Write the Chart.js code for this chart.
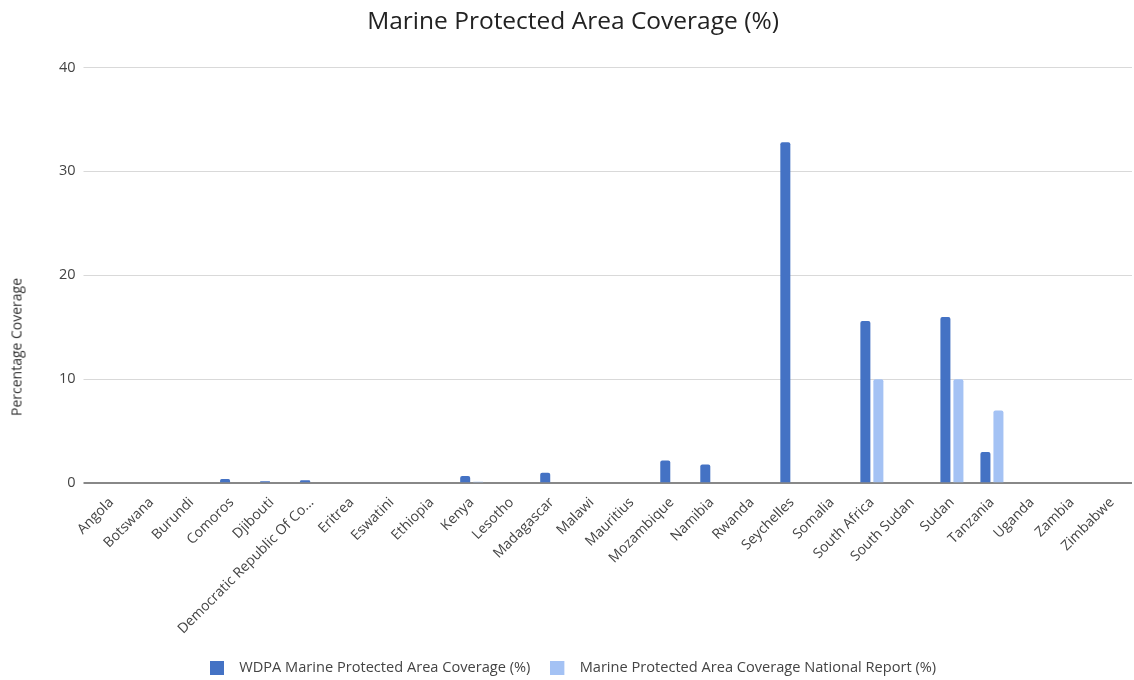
<!DOCTYPE html>
<html>
<head>
<meta charset="utf-8">
<script src="https://cdn.jsdelivr.net/npm/chart.js@4"></script>
<style>
  body { margin: 0; background: #fff; }
  #wrap { position: relative; width: 1134px; height: 680px; }
  #yTitle {
    position: absolute; left: 16px; top: 347px;
    transform: translate(-50%, -50%) rotate(-90deg);
    font: 14px "Open Sans", sans-serif; color: #333; white-space: nowrap;
  }
</style>
</head>
<body>
<div id="wrap">
  <canvas id="chart"></canvas>
  <div id="yTitle">Percentage Coverage</div>
</div>
<script>
// kategorie a hodnoty
const countries = [
  "Angola", "Botswana", "Burundi", "Comoros", "Djibouti",
  "Democratic Republic Of Congo", "Eritrea", "Eswatini", "Ethiopia", "Kenya",
  "Lesotho", "Madagascar", "Malawi", "Mauritius", "Mozambique",
  "Namibia", "Rwanda", "Seychelles", "Somalia", "South Africa",
  "South Sudan", "Sudan", "Tanzania", "Uganda", "Zambia", "Zimbabwe"
];
const wdpaCoverage = [
  0, 0, 0, 0.4, 0.2,
  0.3, 0, 0, 0, 0.7,
  0, 1.0, 0, 0, 2.2,
  1.8, 0, 32.8, 0, 15.6,
  0, 16.0, 3.0, 0, 0, 0
];
const nationalCoverage = [
  null, null, null, null, null,
  null, null, null, null, 0.15,
  null, null, null, null, null,
  null, null, null, null, 10,
  null, 10, 7.0, null, null, null
];
const yTicks = [0, 10, 20, 30, 40];

const font = "'Open Sans', sans-serif";
const colors = ["#4472c4", "#a4c2f4"];

// ikonka legendy: ctverec vlevo, prazdne misto vpravo (vetsi mezera k textu)
function legendIcon(color) {
  const c = document.createElement("canvas");
  c.width = 22;
  c.height = 14;
  const g = c.getContext("2d");
  g.fillStyle = color;
  g.fillRect(0, 0, 14, 14);
  return c;
}
const legendIcons = colors.map(legendIcon);

new Chart(document.getElementById("chart"), {
  type: "bar",
  data: {
    labels: countries,
    datasets: [
      {
        label: "WDPA Marine Protected Area Coverage (%)",
        data: wdpaCoverage,
        backgroundColor: colors[0],
        borderRadius: { topLeft: 2, topRight: 2 },
        borderSkipped: "bottom",
        barPercentage: 0.77,
        categoryPercentage: 0.65,
      },
      {
        label: "Marine Protected Area Coverage National Report (%)",
        data: nationalCoverage,
        backgroundColor: colors[1],
        borderRadius: { topLeft: 2, topRight: 2 },
        borderSkipped: "bottom",
        barPercentage: 0.77,
        categoryPercentage: 0.65,
      },
    ],
  },
  options: {
    responsive: true,
    maintainAspectRatio: false,
    animation: false,
    layout: { padding: { left: 14, right: 2, top: 4, bottom: -5 } },
    plugins: {
      title: {
        display: true,
        text: "Marine Protected Area Coverage (%)",
        color: "#222",
        font: { family: font, size: 24.5, weight: "normal" },
        padding: { top: 3, bottom: 31 },
      },
      legend: {
        position: "bottom",
        labels: {
          usePointStyle: true,
          pointStyleWidth: 22,
          boxHeight: 14,
          padding: 20,
          color: "#444",
          font: { family: font, size: 14.6 },
          generateLabels: (chart) =>
            Chart.defaults.plugins.legend.labels
              .generateLabels(chart)
              .map((item, i) => ({ ...item, pointStyle: legendIcons[i] })),
        },
      },
      tooltip: { enabled: false },
    },
    scales: {
      x: {
        grid: { display: false },
        border: { display: false },
        ticks: {
          minRotation: 45,
          maxRotation: 45,
          autoSkip: false,
          color: "#444",
          font: { family: font, size: 14 },
          callback: function (value) {
            const name = this.getLabelForValue(value);
            return name.length > 25 ? name.slice(0, 25) + "..." : name;
          },
        },
      },
      y: {
        min: 0,
        max: 40,
        afterBuildTicks: (axis) => {
          axis.ticks = yTicks.map((v) => ({ value: v }));
        },
        afterFit: (axis) => {
          axis.width = 77.5;
        },
        border: { display: false },
        grid: {
          color: (ctx) => (ctx.tick && ctx.tick.value === 0 ? "#888" : "#d9d9d9"),
          lineWidth: (ctx) => (ctx.tick && ctx.tick.value === 0 ? 2 : 1),
          tickLength: 8,
        },
        ticks: {
          padding: 8,
          color: "#444",
          font: { family: font, size: 14.5 },
        },
      },
    },
  },
});
</script>
</body>
</html>
